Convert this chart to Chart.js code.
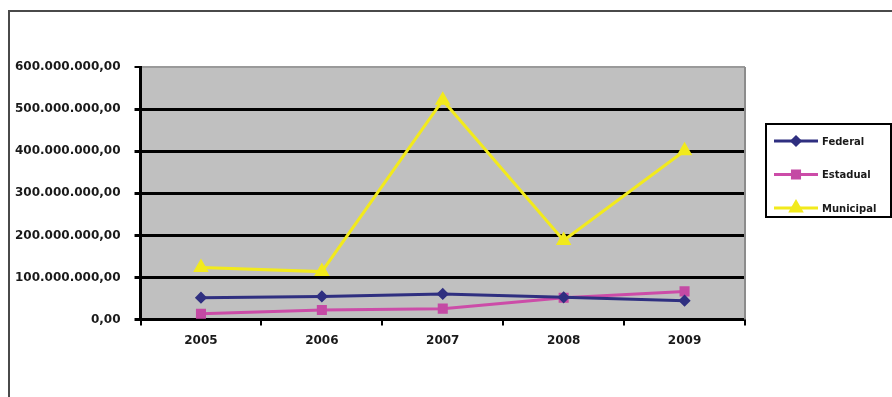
<!DOCTYPE html>
<html>
<head>
<meta charset="utf-8">
<script src="https://cdn.jsdelivr.net/npm/chart.js@4.4.0/dist/chart.umd.min.js"></script>
<style>
  html, body { margin: 0; padding: 0; background: #fff; }
  #wrap { position: relative; width: 892px; height: 397px; }
</style>
</head>
<body>
<div id="wrap"><canvas id="chart_valores"></canvas></div>
<script>
// data
const anos = ['2005', '2006', '2007', '2008', '2009'];
const federal = [52000000, 55000000, 61000000, 53000000, 45000000];
const estadual = [14000000, 23000000, 26000000, 52000000, 67000000];
const municipal = [124000000, 114000000, 521000000, 188000000, 401000000];

const y_max = 600000000;
const y_step = 100000000;

// 600000000 -> "600.000.000,00"
function formatBR(v){
  let s = Math.round(v).toString();
  s = s.replace(/\B(?=(\d{3})+(?!\d))/g, '.');
  return s + ',00';
}

const font_tick = { family: 'DejaVu Sans', size: 12, weight: 'bold' };

// frame, plot background, right gray border
const backgroundPlugin = {
  id: 'backgroundPlugin',
  beforeDraw(chart){
    const ctx = chart.ctx;
    const a = chart.chartArea;
    ctx.save();
    ctx.fillStyle = '#c0c0c0';
    ctx.fillRect(a.left, a.top, a.right - a.left, a.bottom - a.top);
    // outer frame (only left and top are visible)
    ctx.strokeStyle = '#4a4a4a';
    ctx.lineWidth = 2;
    ctx.beginPath();
    ctx.moveTo(9, 397);
    ctx.lineTo(9, 11);
    ctx.lineTo(892, 11);
    ctx.stroke();
    ctx.restore();
  },
  afterDraw(chart){
    const ctx = chart.ctx;
    const a = chart.chartArea;
    ctx.save();
    ctx.strokeStyle = '#8c8c8c';
    ctx.lineWidth = 2;
    ctx.beginPath();
    ctx.moveTo(a.right, a.top);
    ctx.lineTo(a.right, a.bottom);
    ctx.stroke();
    ctx.restore();
  }
};

// excel-like legend: line + marker, boxed
const boxLegend = {
  id: 'boxLegend',
  afterDraw(chart){
    const ctx = chart.ctx;
    const box = { left: 766, top: 124, right: 891, bottom: 217 };
    ctx.save();
    ctx.fillStyle = '#fff';
    ctx.fillRect(box.left, box.top, box.right - box.left, box.bottom - box.top);
    ctx.strokeStyle = '#000';
    ctx.lineWidth = 2;
    ctx.strokeRect(box.left, box.top, box.right - box.left, box.bottom - box.top);
    chart.data.datasets.forEach(function(ds, i){
      const y = 141 + i * 33.5;
      ctx.strokeStyle = ds.borderColor;
      ctx.lineWidth = 3;
      ctx.beginPath();
      ctx.moveTo(774, y);
      ctx.lineTo(818, y);
      ctx.stroke();
      ctx.fillStyle = ds.pointBackgroundColor;
      ctx.strokeStyle = ds.pointBorderColor;
      Chart.helpers.drawPoint(ctx, {
        pointStyle: ds.pointStyle,
        radius: ds.pointRadius,
        rotation: 0,
        borderWidth: 1
      }, 796, y);
      ctx.fillStyle = '#1a1a1a';
      ctx.font = 'bold 10px "DejaVu Sans"';
      ctx.textBaseline = 'middle';
      ctx.textAlign = 'left';
      ctx.fillText(ds.label, 822, y + 1);
    });
    ctx.restore();
  }
};

const data = {
  labels: anos,
  datasets: [{
    label: 'Federal',
    data: federal,
    borderColor: '#2f2f80',
    backgroundColor: '#2f2f80',
    pointBackgroundColor: '#2f2f80',
    pointBorderColor: '#2f2f80',
    pointStyle: 'rectRot',
    pointRadius: 4,
    borderWidth: 3
  }, {
    label: 'Estadual',
    data: estadual,
    borderColor: '#cc4ca8',
    backgroundColor: '#c44aa4',
    pointBackgroundColor: '#c44aa4',
    pointBorderColor: '#c44aa4',
    pointStyle: 'rect',
    pointRadius: 5,
    borderWidth: 3
  }, {
    label: 'Municipal',
    data: municipal,
    borderColor: '#f2ea1c',
    backgroundColor: '#f2ea1c',
    pointBackgroundColor: '#f2ea1c',
    pointBorderColor: '#f2ea1c',
    pointStyle: 'triangle',
    pointRadius: 6,
    borderWidth: 3
  }]
};

const options = {
  responsive: false,
  animation: false,
  layout: {
    padding: { left: 1, top: 67, right: 147, bottom: 41 }
  },
  plugins: {
    legend: { display: false },
    tooltip: { enabled: false }
  },
  scales: {
    x: {
      offset: true,
      grid: {
        offset: true,
        drawOnChartArea: false,
        drawTicks: true,
        tickLength: 6,
        color: '#000',
        lineWidth: 2
      },
      border: { color: '#000', width: 3 },
      ticks: {
        color: '#1a1a1a',
        font: font_tick,
        padding: 8
      }
    },
    y: {
      min: 0,
      max: y_max,
      grid: {
        color: function(c){ return c.tick && c.tick.value === y_max ? '#9a9a9a' : '#000'; },
        lineWidth: function(c){ return c.tick && c.tick.value === y_max ? 2 : 3; },
        tickColor: '#000',
        tickLength: 6,
        drawTicks: true
      },
      border: { color: '#000', width: 3 },
      ticks: {
        stepSize: y_step,
        color: '#1a1a1a',
        font: font_tick,
        padding: 14,
        callback: function(v){ return formatBR(v); }
      }
    }
  }
};

const canvas = document.getElementById('chart_valores');
canvas.width = 892;
canvas.height = 397;
window.valoresChart = new Chart(canvas, {
  type: 'line',
  data: data,
  options: options,
  plugins: [backgroundPlugin, boxLegend]
});
</script>
</body>
</html>
